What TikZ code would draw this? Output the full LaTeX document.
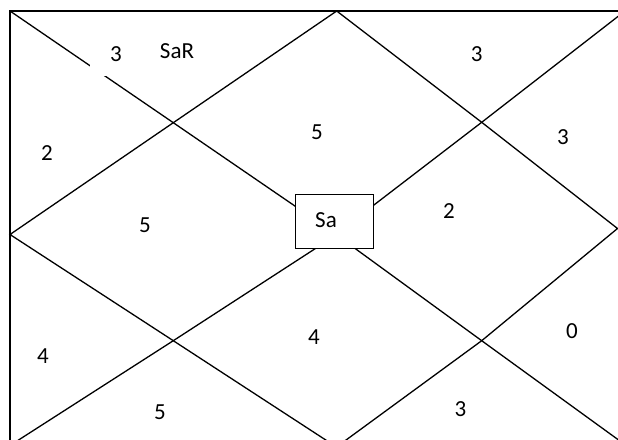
\documentclass[tikz,border=0pt]{standalone}
\usepackage{fontspec}
\setmainfont{Carlito}

\begin{document}
\begin{tikzpicture}[x=1pt, y=-1pt, font=\fontsize{23}{27}\selectfont,
    chartline/.style={line width=1.3pt},
    frameline/.style={line width=2.8pt, line join=miter},
    num/.style={inner sep=0pt}]
    \useasboundingbox (0,0) rectangle (618,439);
    \clip (0,0) rectangle (618,439);
    % frame points, crossings and the two middles
    \coordinate (tl) at (10,11);
    \coordinate (tm) at (336.7,11);
    \coordinate (lm) at (10,234.5);
    \coordinate (rm) at (617.5,228.5);
    \coordinate (bm) at (336.5,447);
    \coordinate (trc) at (625,11);
    \coordinate (brc) at (631,449);
    \coordinate (blc) at (10,445.5);
    \coordinate (xul) at (173.3,122.7);
    \coordinate (xur) at (481.7,122.3);
    \coordinate (xll) at (173.3,340.7);
    \coordinate (xlr) at (481.7,340.7);
    \coordinate (ca) at (327,228);
    \coordinate (cb) at (327,241);
    % diagonals and diamond
    \draw[chartline] (tl) -- (xul) -- (ca) -- (xlr) -- (brc);
    \draw[chartline] (blc) -- (xll) -- (cb) -- (xur) -- (trc);
    \draw[chartline] (tm) -- (xul) -- (lm) -- (xll) -- (bm) -- (xlr)
      -- (rm) -- (xur) -- cycle;
    % outer frame
    \draw[frameline] (10,450) -- (tl) -- (630,11);
    % house numbers
    \node[num, fill=white, minimum width=52pt, minimum height=43pt] (h1) at (116,54.5) {3};
    \node[num] (h1s) at (177,51) {SaR};
    \node[num] (h2) at (476.7,54) {3};
    \node[num] (h3) at (47,153) {2};
    \node[num] (h4) at (317,132) {5};
    \node[num] (h5) at (563,137) {3};
    \node[num] (h6) at (145,225) {5};
    \node[num] (h7) at (449,211) {2};
    \node[num] (h8) at (43,356.5) {4};
    \node[num] (h9) at (314,337) {4};
    \node[num] (h10) at (572,331) {0};
    \node[num] (h11) at (160,412.5) {5};
    \node[num] (h12) at (460.5,409) {3};
    % centre box
    \node[draw, fill=white, line width=1pt, minimum width=77.6pt,
      minimum height=54pt, inner sep=0pt] (box) at (334.5,221.3) {};
    \node[num] (sa) at (326,220.5) {Sa};
\end{tikzpicture}
\end{document}
